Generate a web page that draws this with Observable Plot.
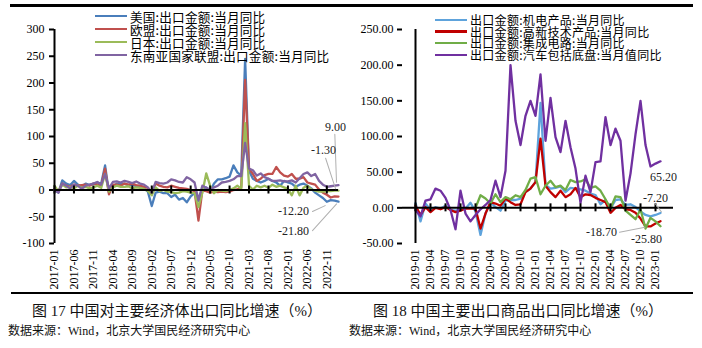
<!DOCTYPE html>
<html><head><meta charset="utf-8">
<script src="https://cdn.jsdelivr.net/npm/d3@7"></script>
<script src="https://cdn.jsdelivr.net/npm/@observablehq/plot@0.6"></script>
<style>
body{margin:0;background:#fff;}
#wrap{position:relative;width:702px;height:348px;overflow:hidden;background:#fff;}
.chart{position:absolute;top:0;}
.hr{position:absolute;background:#000;}
.legend{position:absolute;font-family:"Noto Sans CJK SC";color:#000;white-space:pre;}
.sw{position:absolute;}
.cap{position:absolute;font-family:"Liberation Serif","Noto Sans CJK SC";font-size:15px;color:#111;white-space:nowrap;transform:translate(-50%,-50%);}
.src{position:absolute;font-family:"Liberation Serif","Noto Sans CJK SC";font-size:12px;color:#111;white-space:nowrap;transform:translateY(-50%);}
.chart svg g[aria-label^="y-axis"] path,.chart svg g[aria-label^="y-axis"] line{stroke-width:2px;}
</style>
</head><body>
<div id="wrap"></div>
<script>
// ---------- data: left chart (monthly, 2017-01 .. 2023-02) ----------
const leftStart = "2017-01", leftEnd = "2023-02";
const leftTicks = ["2017-01","2017-06","2017-11","2018-04","2018-09","2019-02","2019-07","2019-12","2020-05","2020-10","2021-03","2021-08","2022-01","2022-06","2022-11"];
const leftYTicks = [-100,-50,0,50,100,150,200,250,300];
const leftNames = ["美国:出口金额:当月同比","欧盟:出口金额:当月同比","日本:出口金额:当月同比","东南亚国家联盟:出口金额:当月同比"];
const usExport = [0,-5,18,12,9,17,10,7,12,9,12,14, 12,46,-5,7,12,11,12,9,10,7,6,3, -3,-30,-5,-3,-6,-6,-13,-9,-18,-15,-23,-12, -6,-20,3,5,-3,12,20,20,22,25,46,33, 27,245,36,21,17,14,17,21,17,14,8,17, 14,12,6,10,12,8,3,-5,-10,-15,-22,-19,-20,-21.8];
const euExport = [2,-3,12,8,6,10,8,9,10,8,12,10, 8,40,-8,10,10,8,12,10,12,9,8,6, 4,-5,12,8,6,5,8,6,4,3,2,0, -2,-57,-1,-2,-5,-3,-4,-3,-4,-3,0,1, 5,206,40,30,17,21,28,30,30,43,33,27, 25,30,21,21,24,14,12,10,1,-5,-9,-14,-12,-12.2];
const jpExport = [8,-3,10,5,6,3,8,4,6,3,5,8, 4,30,-3,5,8,6,6,7,3,5,4,2, -2,-10,5,-2,0,-3,-4,-6,-5,-2,-3,-5, -6,-32,-5,31,8,-6,0,-1,-2,0,3,8, 2,125,8,1,8,5,8,4,10,6,8,5, 2,-10,8,-10,4,8,1,-1,-3,-3,-2,-2,-1,-1.3];
const aseanExport = [0,-5,12,8,3,10,8,2,8,10,12,15, 10,30,3,15,16,14,17,15,13,16,12,10, 5,-5,15,13,12,14,20,18,15,14,24,20, 14,-19,8,4,1,5,8,14,15,17,20,26, 26,88,40,37,27,31,24,21,17,17,18,16, 16,18,14,22,30,33,26,30,17,10,6,7,8,9];

// ---------- data: right chart (monthly, 2019-01 .. 2023-02) ----------
const rightStart = "2019-01", rightEnd = "2023-02";
const rightTicks = ["2019-01","2019-04","2019-07","2019-10","2020-01","2020-04","2020-07","2020-10","2021-01","2021-04","2021-07","2021-10","2022-01","2022-04","2022-07","2022-10","2023-01"];
const rightYTicks = [-50,0,50,100,150,200,250];
const rightNames = ["出口金额:机电产品:当月同比","出口金额:高新技术产品:当月同比","出口金额:集成电路:当月同比","出口金额:汽车包括底盘:当月值同比"];
const mechElec = [7,-19,6,-3,1,-1,3,-3,-4,-2,-1,7,-5, -38, -8,8,1,-4,10,11,11,13,22,27,36, 147, 32,27,28,30,22,28,27,26,24,20,18,5,11,-1,11,12,4,5,1,-5,-10,-12,-10,-7.2];
const highTech = [3,-10,1,-6,0,-2,1,-3,-6,-4,-1,-1,-1, -29, -8,8,6,3,13,8,4,5,22,27,36, 97, 31,22,15,24,15,19,28,15,19,18,14,11,8,-7,0,4,-2,-3,-7,-15,-26,-26,-22,-18.7];
const icExport = [null,null,null,null,null,null,null,null,null,null,null,null, 0,17.6,13,6,19,8,15,12,17.6,15,25,41,43,19,31,38,29,31,25,39,36,37,40,28,30,24,12,-1,16,15,-4,-10,-16,-2,-29,-14,-19,-25.8];
const autoExport = [-3,-12,10,12,27,24,14,-3,-30,24,-8,-19,-10,-2,4,11,38,15,52,200,122,88,129,150,129,187,94,154,99,78,122,85,55,7,45,22,64,65,127,88,111,94,10,48,103,150,88,58,62,65.2];

// ---------- helpers ----------
const fmtMonth = d3.utcFormat("%Y-%m");
function monthRange(a, b) {
  const p = d3.utcParse("%Y-%m");
  return d3.utcMonth.range(p(a), d3.utcMonth.offset(p(b), 1)).map(fmtMonth);
}
const leftMonths = monthRange(leftStart, leftEnd);
const rightMonths = monthRange(rightStart, rightEnd);
function tidy(months, values, name) {
  return values.map((v, i) => ({month: months[i], value: v, series: name}));
}
const leftColors = ["#4a7ebb","#c0504d","#9bbb59","#8064a2"];
const rightColors = ["#5ea3dc","#c00000","#70ad47","#7030a0"];
const leftSeries = [usExport, euExport, jpExport, aseanExport].map((v, k) => tidy(leftMonths, v, leftNames[k]));
const rightSeries = [mechElec, highTech, icExport, autoExport].map((v, k) => tidy(rightMonths, v, rightNames[k]));
const last = s => s.filter(d => d.value != null).slice(-1);

const leaderShape = {draw(context, l) { context.moveTo(0, 0); context.lineTo(0, -l); }};
function label(s, dx, dy) {
  return Plot.text(last(s), {x: "month", y: "value", text: d => d.value.toFixed(2), dx, dy,
    fontFamily: "Liberation Serif", fontSize: 12, fill: "#222"});
}
function leader(s, dx, dy, length, rotate) {
  return Plot.vector(last(s), {x: "month", y: "value", dx, dy, length, rotate, anchor: "start",
    shape: leaderShape, stroke: "#b0b0b0", strokeWidth: 1});
}
function zeroTicks(ticks) {
  return Plot.ruleX(ticks, {x: d => d, y1: 0, y2: 0, insetTop: -4, insetBottom: -4, stroke: "#000", strokeWidth: 2});
}
const baseStyle = {fontFamily: "Liberation Serif", fontSize: "12px", color: "#000", background: "transparent", overflow: "visible"};

// ---------- left chart ----------
const leftPlot = Plot.plot({
  width: 350, height: 293,
  marginLeft: 54, marginRight: 12, marginTop: 29, marginBottom: 50,
  style: baseStyle,
  x: {type: "point", domain: leftMonths, padding: 0, ticks: leftTicks, tickRotate: -90, tickSize: 0, tickPadding: 6, label: null},
  y: {domain: [-100, 300], ticks: leftYTicks, tickSize: 5, tickPadding: 5, tickFormat: d => String(d), label: null},
  marks: [
    ...leftSeries.map((s, k) => Plot.line(s, {x: "month", y: "value", stroke: leftColors[k], strokeWidth: 2.3})),
    Plot.ruleY([0], {stroke: "#000", strokeWidth: 2}),
    zeroTicks(leftTicks),
    Plot.ruleX([leftMonths[0]], {stroke: "#000", strokeWidth: 2}),
    leader(leftSeries[3], -2, -3, 48, -2),
    leader(leftSeries[2], -3, -2, 32, -18),
    leader(leftSeries[1], -26, 15, 14, 65),
    leader(leftSeries[0], -26, 29, 36, 42),
    label(leftSeries[3], -3, -58),
    label(leftSeries[2], -15, -41),
    label(leftSeries[1], -45, 15),
    label(leftSeries[0], -45, 29)
  ]
});

// ---------- right chart ----------
const rightPlot = Plot.plot({
  width: 352, height: 293,
  marginLeft: 52, marginRight: 29, marginTop: 29, marginBottom: 50,
  style: baseStyle,
  x: {type: "point", domain: rightMonths, padding: 0, ticks: rightTicks, tickRotate: -90, tickSize: 0, tickPadding: 6, label: null},
  y: {domain: [-50, 250], ticks: rightYTicks, tickSize: 5, tickPadding: 4, tickFormat: d => d.toFixed(2), label: null},
  marks: [
    ...rightSeries.map((s, k) => Plot.line(s, {x: "month", y: "value", stroke: rightColors[k], strokeWidth: 2.3})),
    Plot.ruleY([0], {stroke: "#000", strokeWidth: 2}),
    zeroTicks(rightTicks),
    Plot.ruleX([rightMonths[0]], {stroke: "#000", strokeWidth: 2}),
    leader(rightSeries[0], 1, -1, 10, -37),
    leader(rightSeries[1], -41, 11, 26, 79),
    label(rightSeries[3], 3, 16),
    label(rightSeries[0], -5, -15),
    label(rightSeries[1], -59, 11),
    label(rightSeries[2], -14, 13)
  ]
});

// ---------- assemble ----------
const wrap = document.getElementById("wrap");
function add(el, css) { Object.assign(el.style, css); wrap.appendChild(el); return el; }
function div(cls, css, text) { const e = document.createElement("div"); e.className = cls; if (text) e.textContent = text; return add(e, css); }

const lp = document.createElement("div"); lp.className = "chart"; lp.style.left = "0px"; lp.appendChild(leftPlot); wrap.appendChild(lp);
const rp = document.createElement("div"); rp.className = "chart"; rp.style.left = "350px"; rp.appendChild(rightPlot); wrap.appendChild(rp);

div("hr", {left: "10px", top: "4px", width: "683px", height: "2.5px"});
div("hr", {left: "11px", top: "292px", width: "682px", height: "2px"});

// legend: swatches + one multi-line text block per chart
function legend(names, colors, x0, y0, step, fs, ls) {
  names.forEach((n, k) => {
    const cy = y0 + k * step;
    div("sw", {left: x0 + "px", top: (cy - 1.25) + "px", width: "32px", height: "2.5px", background: colors[k]});
  });
  div("legend", {left: (x0 + 35) + "px", top: (y0 - step / 2) + "px",
    fontSize: fs + "px", lineHeight: step + "px", letterSpacing: ls + "px"}, names.join("\n"));
}
legend(leftNames, leftColors, 95, 16, 13, 12.6, 0.2);
legend(rightNames, rightColors, 435, 19.8, 11.7, 12, 0.3);

div("cap", {left: "177px", top: "309px"}, "图 17  中国对主要经济体出口同比增速（%）");
div("cap", {left: "518px", top: "309px"}, "图 18  中国主要出口商品出口同比增速（%）");
div("src", {left: "8px", top: "330px"}, "数据来源：Wind，北京大学国民经济研究中心");
div("src", {left: "349px", top: "330px"}, "数据来源：Wind，北京大学国民经济研究中心");
</script>
</body></html>
